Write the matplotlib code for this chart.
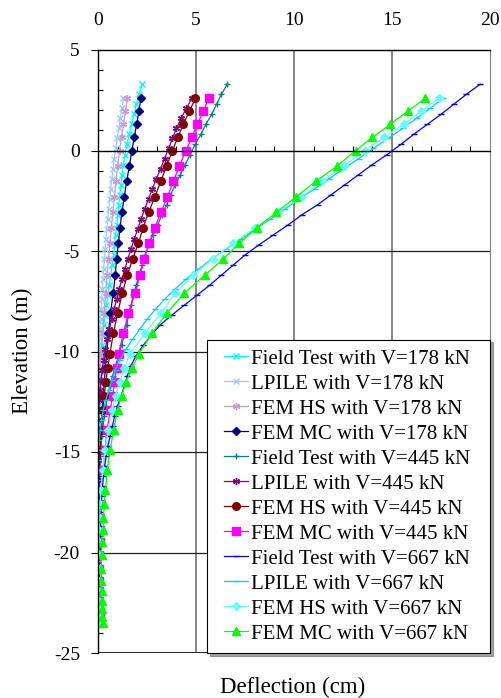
import numpy as np
import matplotlib
matplotlib.use("Agg")
import matplotlib.pyplot as plt
from matplotlib.ticker import MultipleLocator
from matplotlib.lines import Line2D
from matplotlib.legend_handler import HandlerLine2D

plt.rcParams['font.family'] = ['Liberation Serif', 'DejaVu Serif']
plt.rcParams['axes.unicode_minus'] = False

# elevations (m) where each kind of result is given
field_elev = [3.3, 2.8, 2.3, 1.8, 1.3, 0.8, 0.3, -0.2, -0.7, -1.2, -1.7, -2.2, -2.7,
              -3.2, -3.7, -4.2, -4.7, -5.2, -5.7, -6.2, -6.7, -7.2, -7.7, -8.2, -8.7,
              -9.2, -9.7, -10.2, -10.7, -11.2, -11.7, -12.2, -12.7, -13.2, -13.7,
              -14.2, -14.7, -15.2, -15.7, -16.2, -16.7, -17.2, -17.7, -18.2, -18.7,
              -19.2, -19.7, -20.2, -20.7, -21.2, -21.7, -22.2, -22.7, -23.2]
lpile_elev = [2.6, 2.1, 1.6, 1.1, 0.6, 0.1, -0.4, -0.9, -1.4, -1.9, -2.4, -2.9, -3.4,
              -3.9, -4.4, -4.9, -5.4, -5.9, -6.4, -6.9, -7.4, -7.9, -8.4, -8.9, -9.4,
              -9.9, -10.4, -10.9, -11.4, -11.9, -12.4, -12.9, -13.4, -13.9, -14.4,
              -14.9, -15.4, -15.9, -16.4, -16.9, -17.4, -17.9, -18.4, -18.9, -19.4,
              -19.9, -20.4, -20.9, -21.4, -21.9, -22.4, -22.9, -23.4]
fem_elev = [2.6, 1.95, 1.3, 0.65, 0.0, -0.77, -1.54, -2.31, -3.08, -3.85, -4.62, -5.39,
            -6.2, -7.1, -8.1, -9.1, -10.1, -10.8, -11.5, -12.2, -12.9, -13.9, -14.9,
            -15.9, -16.9, -17.6, -18.3, -18.9, -19.5, -20.1, -20.8, -21.4, -21.9,
            -22.4, -22.8, -23.2, -23.5]

# deflections (cm)
field_178 = [2.25, 2.1, 1.95, 1.85, 1.72, 1.6, 1.48, 1.37, 1.3, 1.23, 1.17, 1.11, 1.06,
             1.01, 0.96, 0.9, 0.85, 0.8, 0.72, 0.65, 0.57, 0.5, 0.43, 0.36, 0.3, 0.24,
             0.19, 0.15, 0.11, 0.08, 0.06, 0.04, 0.03, 0.02, 0.01, 0.0, 0.0, 0.0, 0.0,
             0.0, 0.0, 0.0, 0.0, 0.0, 0.0, 0.0, 0.0, 0.0, 0.0, 0.0, 0.0, 0.0, 0.0, 0.0]
lpile_178 = [1.3, 1.22, 1.14, 1.06, 0.98, 0.9, 0.83, 0.77, 0.71, 0.65, 0.6, 0.55, 0.5,
             0.45, 0.41, 0.37, 0.33, 0.29, 0.25, 0.22, 0.19, 0.16, 0.13, 0.1, 0.08,
             0.06, 0.04, 0.03, 0.02, 0.01, 0.0, 0.0, 0.0, 0.0, 0.0, 0.0, 0.0, 0.0, 0.0,
             0.0, 0.0, 0.0, 0.0, 0.0, 0.0, 0.0, 0.0, 0.0, 0.0, 0.0, 0.0, 0.0, 0.0]
femhs_178 = [1.5, 1.4, 1.3, 1.2, 1.1, 1.0, 0.92, 0.84, 0.76, 0.68, 0.61, 0.54, 0.47,
             0.39, 0.31, 0.23, 0.16, 0.12, 0.09, 0.06, 0.04, 0.02, 0.01, 0.0, 0.0, 0.0,
             0.0, 0.0, 0.0, 0.0, 0.0, 0.0, 0.0, 0.0, 0.0, 0.0, 0.0]
femmc_178 = [2.19, 2.09, 1.97, 1.85, 1.73, 1.6, 1.46, 1.34, 1.22, 1.12, 1.04, 0.95,
             0.88, 0.78, 0.63, 0.53, 0.44, 0.38, 0.32, 0.27, 0.22, 0.16, 0.11, 0.08,
             0.06, 0.05, 0.04, 0.04, 0.04, 0.04, 0.04, 0.04, 0.04, 0.05, 0.05, 0.05, 0.05]

field_445 = [6.6, 6.3, 6.05, 5.8, 5.5, 5.25, 4.95, 4.7, 4.45, 4.2, 3.95, 3.7, 3.5, 3.25,
             3.05, 2.8, 2.6, 2.4, 2.25, 2.1, 1.95, 1.8, 1.68, 1.56, 1.46, 1.34, 1.2,
             1.05, 0.9, 0.75, 0.62, 0.5, 0.4, 0.32, 0.25, 0.18, 0.13, 0.09, 0.06, 0.04,
             0.03, 0.02, 0.02, 0.01, 0.01, 0.0, 0.0, 0.0, 0.0, 0.0, 0.0, 0.0, 0.0, 0.0]
lpile_445 = [4.8, 4.5, 4.25, 4.0, 3.8, 3.6, 3.4, 3.2, 2.98, 2.78, 2.58, 2.39, 2.2, 2.03,
             1.85, 1.68, 1.52, 1.37, 1.22, 1.08, 0.95, 0.82, 0.7, 0.58, 0.47, 0.37,
             0.29, 0.22, 0.16, 0.11, 0.07, 0.04, 0.02, 0.0, -0.01, -0.01, -0.01, 0.0,
             0.0, 0.0, 0.0, 0.0, 0.0, 0.0, 0.0, 0.0, 0.0, 0.0, 0.0, 0.0, 0.0, 0.0, 0.0]
femhs_445 = [4.97, 4.66, 4.35, 4.07, 3.8, 3.5, 3.2, 2.9, 2.58, 2.3, 2.06, 1.77, 1.5,
             1.24, 1.0, 0.78, 0.61, 0.5, 0.4, 0.32, 0.25, 0.17, 0.11, 0.07, 0.04, 0.02,
             0.01, 0.0, -0.01, -0.01, -0.01, -0.01, -0.01, 0.0, 0.0, 0.0, 0.0]
femmc_445 = [5.65, 5.37, 5.07, 4.78, 4.49, 4.15, 3.84, 3.54, 3.2, 2.9, 2.6, 2.36, 2.14,
             1.9, 1.55, 1.29, 1.05, 0.95, 0.85, 0.75, 0.62, 0.47, 0.35, 0.26, 0.19,
             0.15, 0.12, 0.1, 0.08, 0.07, 0.06, 0.06, 0.06, 0.07, 0.07, 0.08, 0.08]

field_667 = [19.5, 18.8, 18.15, 17.5, 16.8, 16.1, 15.45, 14.75, 14.0, 13.3, 12.6, 11.9,
             11.2, 10.4, 9.7, 8.95, 8.2, 7.5, 6.9, 6.3, 5.7, 5.05, 4.4, 3.75, 3.15, 2.7,
             2.3, 1.95, 1.68, 1.5, 1.35, 1.18, 1.0, 0.85, 0.74, 0.63, 0.5, 0.42, 0.34,
             0.28, 0.23, 0.19, 0.15, 0.13, 0.11, 0.1, 0.09, 0.08, 0.07, 0.06, 0.06,
             0.05, 0.05, 0.05]
lpile_667 = [17.6, 16.95, 16.25, 15.55, 14.8, 14.05, 13.3, 12.55, 11.8, 11.05, 10.3,
             9.55, 8.8, 8.05, 7.3, 6.55, 5.8, 5.12, 4.5, 3.92, 3.4, 2.93, 2.5, 2.12,
             1.76, 1.42, 1.13, 0.9, 0.72, 0.55, 0.4, 0.27, 0.18, 0.11, 0.06, 0.02, 0.0,
             -0.02, -0.03, -0.03, -0.03, -0.02, -0.02, -0.01, -0.01, 0.0, 0.0, 0.0, 0.0,
             0.0, 0.0, 0.0, 0.0]
femhs_667 = [17.4, 16.5, 15.6, 14.6, 13.6, 12.55, 11.45, 10.35, 9.2, 8.0, 6.9, 5.85,
             4.85, 3.95, 3.2, 2.38, 1.65, 1.35, 1.1, 0.9, 0.72, 0.52, 0.36, 0.24, 0.15,
             0.11, 0.08, 0.06, 0.05, 0.04, 0.03, 0.03, 0.03, 0.04, 0.04, 0.05, 0.05]
femmc_667 = [16.7, 15.8, 14.9, 14.0, 13.15, 12.2, 11.1, 10.1, 9.1, 8.1, 7.2, 6.4, 5.45,
             4.4, 3.5, 2.75, 2.1, 1.75, 1.45, 1.2, 1.0, 0.8, 0.62, 0.47, 0.38, 0.32,
             0.28, 0.24, 0.2, 0.18, 0.17, 0.17, 0.18, 0.2, 0.21, 0.22, 0.25]

# (label, deflection, elevation, colour, marker, marker size)
series = [
    ("Field Test with V=178 kN", field_178, field_elev, "#00FFFF", "x", 4.5),
    ("LPILE with V=178 kN", lpile_178, lpile_elev, "#99CCFF", "x", 4.5),
    ("FEM HS with V=178 kN", femhs_178, fem_elev, "#CC99CC", (6, 2, 0), 5),
    ("FEM MC with V=178 kN", femmc_178, fem_elev, "#000080", "D", 4),
    ("Field Test with V=445 kN", field_445, field_elev, "#008080", "+", 5),
    ("LPILE with V=445 kN", lpile_445, lpile_elev, "#800080", (6, 2, 0), 5),
    ("FEM HS with V=445 kN", femhs_445, fem_elev, "#800000", "o", 5.5),
    ("FEM MC with V=445 kN", femmc_445, fem_elev, "#FF00FF", "s", 5.5),
    ("Field Test with V=667 kN", field_667, field_elev, "#0000FF", "_", 4),
    ("LPILE with V=667 kN", lpile_667, lpile_elev, "#00CCFF", "_", 5),
    ("FEM HS with V=667 kN", femhs_667, fem_elev, "#66FFFF", "D", 4.5),
    ("FEM MC with V=667 kN", femmc_667, fem_elev, "#00FF00", "^", 6),
]

fig = plt.figure(figsize=(5.01, 6.98), dpi=100)
ax = fig.add_axes([98 / 501, 45 / 698, 392 / 501, 603 / 698])

for lab, x, y, col, mk, ms in series:
    ax.plot(x, y, color=col, lw=0.9, marker=mk, ms=ms, mec=col, mfc=col,
            mew=1.0, label=lab)

ax.set_xlim(0, 20)
ax.set_ylim(-25, 5)

# x axis crosses at elevation 0, labels sit on top
ax.spines['bottom'].set_position(('data', 0))
ax.spines['bottom'].set_linewidth(1.0)
ax.spines['left'].set_linewidth(1.0)
ax.spines['top'].set_linewidth(1.0)
ax.spines['right'].set_color('#808080')
ax.xaxis.set_major_locator(MultipleLocator(5))
ax.xaxis.set_minor_locator(MultipleLocator(1))
ax.yaxis.set_major_locator(MultipleLocator(5))
ax.yaxis.set_minor_locator(MultipleLocator(1))
ax.tick_params(axis='x', which='both', bottom=True, top=False,
               labelbottom=False, labeltop=True)
ax.tick_params(axis='x', which='major', length=0, pad=15, labelsize=14)
ax.tick_params(axis='x', which='minor', direction='in', length=3.5, width=0.8)
ax.tick_params(axis='y', which='major', direction='out', length=5, pad=8,
               labelsize=14)
ax.tick_params(axis='y', which='minor', direction='in', length=3.5, width=0.8)

for v in [5, 10, 15]:
    ax.axvline(v, color='#707070', lw=1.2, zorder=0.5)
for h in [-5, -10, -15, -20]:
    ax.axhline(h, color='#202020', lw=0.9, zorder=0.5)
ax.axhline(-25, color='#202020', lw=1.4, zorder=0.5)

leg_x0 = (207 - 98) / 392
leg = ax.legend(loc='lower right', bbox_to_anchor=(leg_x0, 0.0, 1 - leg_x0, 0.6),
                mode='expand', borderaxespad=0, fontsize=15, frameon=True,
                fancybox=False, shadow=True, handlelength=1.5,
                handletextpad=0.15, labelspacing=0.26, borderpad=0.45,
                handler_map={Line2D: HandlerLine2D(numpoints=1, xpad=0.35)})
leg.get_frame().set_edgecolor('black')
leg.get_frame().set_linewidth(0.8)

fig.text(22 / 501, 1 - 351 / 698, "Elevation (m)", rotation=90, fontsize=16.5,
         ha='center', va='center')
fig.text(293 / 501, 1 - 687 / 698, "Deflection (cm)", fontsize=16.5,
         ha='center', va='center')

fig.savefig("out.png", dpi=100)
